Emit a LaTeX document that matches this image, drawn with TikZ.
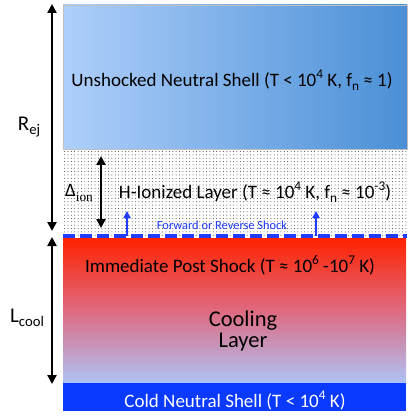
\documentclass[tikz,border=0pt]{standalone}
\usepackage{fontspec}
\setmainfont{Carlito}
\newfontfamily\serifsub{Liberation Serif}
\usetikzlibrary{arrows.meta}
\definecolor{topL}{HTML}{AECFFA}
\definecolor{topR}{HTML}{4A8FD6}
\definecolor{hotred}{HTML}{FF2200}
\definecolor{midpink}{HTML}{DE6A80}
\definecolor{coolblue}{HTML}{AEC3F6}
\definecolor{coldblue}{HTML}{0A3AFF}
\definecolor{shockblue}{HTML}{1F3CFF}
\newcommand\supr[1]{\raisebox{0.42em}{\scalebox{0.7}{#1}}}
\newcommand\subr[1]{\raisebox{-0.22em}{\scalebox{0.7}{#1}}}
\tikzset{
  dimarrow/.style={line width=2.6pt,{Triangle[width=9pt,length=9pt]}-{Triangle[width=9pt,length=9pt]}},
  shockarrow/.style={line width=2.2pt,shockblue,-{Triangle[width=7pt,length=7pt]}},
  shockline/.style={line width=4pt,shockblue,dash pattern=on 12pt off 5pt},
  layertext/.style={font=\fontsize{19}{22}\selectfont,inner sep=0pt,anchor=center},
  dimlabel/.style={font=\fontsize{21}{24}\selectfont,inner sep=0pt,anchor=center},
  dot/.style={fill=black!75}
}
\begin{document}
\begin{tikzpicture}[x=1pt,y=-1pt]
\useasboundingbox (0,0) rectangle (415,419);
% unshocked shell
\shade[left color=topL,right color=topR] (63,5) rectangle (407,149);
\draw[black!25,line width=0.6pt] (63,5) rectangle (407,149);
% dotted H-ionized layer
\foreach \i in {0,...,101}{
  \foreach \j in {0,...,25}{
    \fill[dot] (64.6+\i*3.38,151.5+\j*3.35) circle (0.5);
  }
}
% cooling layer
\shade[top color=hotred,bottom color=coolblue,middle color=midpink] (63,238) rectangle (406,383);
% cold shell
\fill[coldblue] (63,383) rectangle (406,411);
% shock line
\coordinate (sl) at (63,236);
\coordinate (sr) at (407,236);
\draw[shockline] (sl) -- (sr);
% shock arrows
\coordinate (a1b) at (127,236);
\coordinate (a1t) at (127,211);
\coordinate (a2b) at (316,236);
\coordinate (a2t) at (316,211);
\draw[shockarrow] (a1b) -- (a1t);
\draw[shockarrow] (a2b) -- (a2t);
% dimension arrows
\coordinate (rt) at (52,4);
\coordinate (rb) at (52,231);
\coordinate (lt) at (52,237);
\coordinate (lb) at (52,384);
\coordinate (dt) at (101,156);
\coordinate (db) at (101,228);
\draw[dimarrow] (rb) -- (rt);
\draw[dimarrow] (lb) -- (lt);
\draw[dimarrow] (db) -- (dt);
% labels
\node[dimlabel] (rej) at (29,127) {R\subr{ej}};
\node[dimlabel] (lcool) at (27,318) {L\subr{cool}};
\node[dimlabel,font=\fontsize{19}{22}\selectfont] (dion) at (79,193) {Δ\subr{\serifsub ion}};
% texts
\node[layertext] (unsh) at (232,80) {Unshocked Neutral Shell (T {<} 10\supr{4} K, f\subr{n} ≈ 1)};
\node[layertext] (hion) at (255,192) {H-Ionized Layer (T ≈ 10\supr{4} K, f\subr{n} ≈ 10\supr{-3})};
\node[layertext,font=\fontsize{12.4}{14}\selectfont,text=shockblue] (fwd) at (222,225) {Forward or Reverse Shock};
\node[layertext] (post) at (230,265) {Immediate Post Shock (T ≈ 10\supr{6} -10\supr{7} K)};
\node[layertext,font=\fontsize{22.5}{21}\selectfont,align=center] (cool) at (243,331) {Cooling\\Layer};
\node[layertext,text=white] (cold) at (235,401) {Cold Neutral Shell (T {<} 10\supr{4} K)};
\end{tikzpicture}
\end{document}
